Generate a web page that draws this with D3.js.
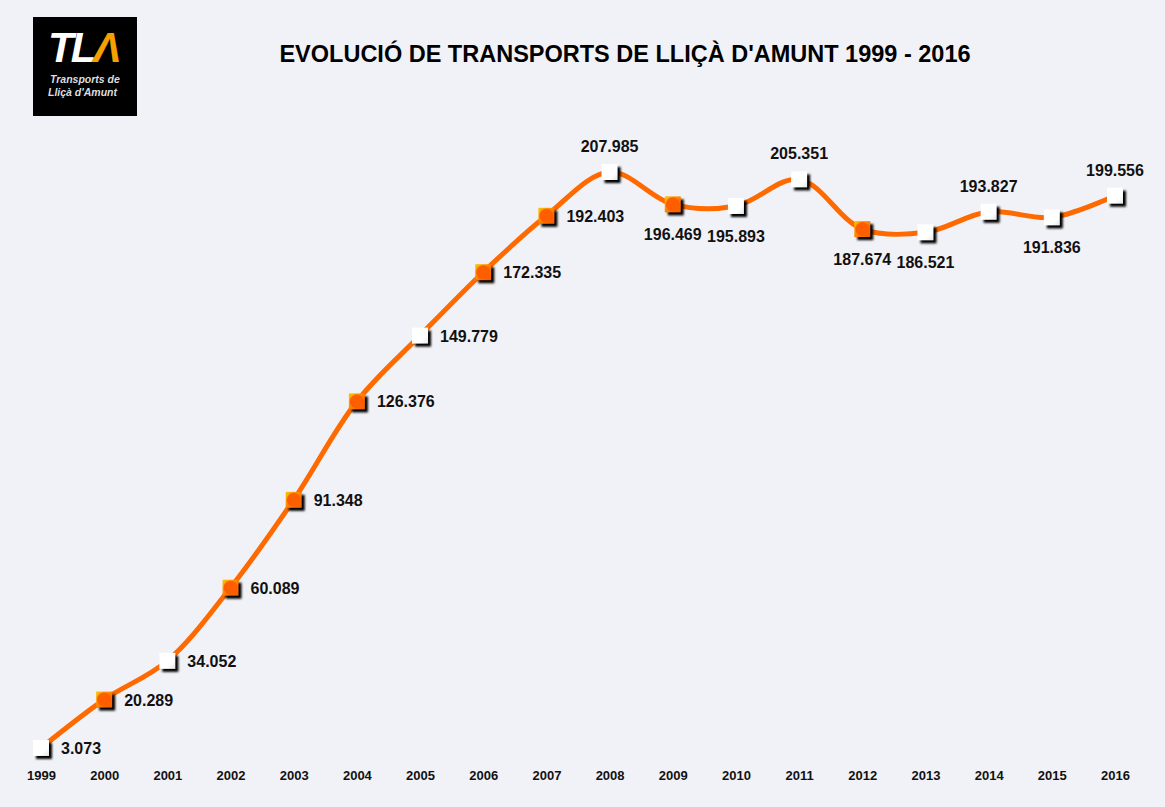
<!DOCTYPE html>
<html>
<head>
<meta charset="utf-8">
<script src="https://cdn.jsdelivr.net/npm/d3@7"></script>
<style>
  body { margin: 0; background: #f1f2f7; }
  svg { display: block; }
</style>
</head>
<body>
<div id="chart"></div>
<script>
// Data
const years = [1999, 2000, 2001, 2002, 2003, 2004, 2005, 2006, 2007, 2008, 2009, 2010, 2011, 2012, 2013, 2014, 2015, 2016]
const passengers = [3073, 20289, 34052, 60089, 91348, 126376, 149779, 172335, 192403, 207985, 196469, 195893, 205351, 187674, 186521, 193827, 191836, 199556]
const marker_kind = ['w', 'o', 'w', 'o', 'o', 'o', 'w', 'o', 'o', 'w', 'o', 'w', 'w', 'o', 'w', 'w', 'w', 'w']
const label_side = ['r', 'r', 'r', 'r', 'r', 'r', 'r', 'r', 'r', 't', 'b', 'b', 't', 'b', 'b', 't', 'b', 't']
const title = "EVOLUCIÓ DE TRANSPORTS DE LLIÇÀ D'AMUNT 1999 - 2016"

const width = 1165
const height = 807
const font = "'Liberation Sans', Arial, sans-serif"

const svg = d3.select('#chart').append('svg')
  .attr('width', width)
  .attr('height', height)

svg.append('rect')
  .attr('width', width).attr('height', height)
  .attr('fill', '#f1f2f7')

const defs = svg.append('defs')
const shadow = defs.append('filter').attr('id', 'blur')
  .attr('x', '-50%').attr('y', '-50%').attr('width', '200%').attr('height', '200%')
shadow.append('feGaussianBlur').attr('stdDeviation', 1.2)

const og = defs.append('linearGradient').attr('id', 'orange_sq')
  .attr('x1', 0).attr('y1', 0).attr('x2', 1).attr('y2', 1)
og.append('stop').attr('offset', '0%').attr('stop-color', '#f7c600')
og.append('stop').attr('offset', '55%').attr('stop-color', '#ff7a00')
og.append('stop').attr('offset', '100%').attr('stop-color', '#f05a00')

const wg = defs.append('linearGradient').attr('id', 'white_sq')
  .attr('x1', 0).attr('y1', 0).attr('x2', 1).attr('y2', 1)
wg.append('stop').attr('offset', '0%').attr('stop-color', '#ffffff')
wg.append('stop').attr('offset', '70%').attr('stop-color', '#ffffff')
wg.append('stop').attr('offset', '100%').attr('stop-color', '#e6e6e6')

// Logo
const logo = svg.append('g').attr('class', 'logo')
logo.append('rect')
  .attr('x', 33).attr('y', 17).attr('width', 104).attr('height', 99)
  .attr('fill', '#000')
const tla = logo.append('text')
  .attr('x', 48).attr('y', 62)
  .attr('font-family', font)
  .attr('font-weight', 'bold')
  .attr('font-style', 'italic')
  .attr('font-size', 42)
  .attr('letter-spacing', -3)
tla.append('tspan').attr('fill', '#fff').text('TL')
tla.append('tspan').attr('fill', '#f5a000').text('Λ')
logo.append('text')
  .attr('x', 50).attr('y', 83)
  .attr('font-family', font).attr('font-style', 'italic').attr('font-weight', 'bold')
  .attr('font-size', 10.5).attr('fill', '#ddd')
  .text('Transports de')
logo.append('text')
  .attr('x', 48).attr('y', 96)
  .attr('font-family', font).attr('font-style', 'italic').attr('font-weight', 'bold')
  .attr('font-size', 10.5).attr('fill', '#ddd')
  .text("Lliçà d'Amunt")

// Title
svg.append('text')
  .attr('x', 625).attr('y', 62)
  .attr('text-anchor', 'middle')
  .attr('font-family', font)
  .attr('font-weight', 'bold')
  .attr('font-size', 23.5)
  .attr('fill', '#000')
  .text(title)

// Scales
const x = d3.scalePoint()
  .domain(years)
  .range([41, 1115])
const y = d3.scaleLinear()
  .domain([0, 207985])
  .range([756.6, 172])

// Year labels
const xaxis = svg.append('g')
  .attr('transform', 'translate(0,780)')
  .call(d3.axisBottom(x).tickSize(0).tickPadding(0))
xaxis.select('.domain').remove()
xaxis.selectAll('text')
  .attr('font-family', font)
  .attr('font-weight', 'bold')
  .attr('font-size', 13)
  .attr('fill', '#111')
  .attr('dy', 0)

const points = years.map((yr, i) => ({ year: yr, value: passengers[i], kind: marker_kind[i], side: label_side[i] }))

// Line
const line = d3.line()
  .x(d => x(d.year))
  .y(d => y(d.value))
  .curve(d3.curveCatmullRom.alpha(0.5))
svg.append('path')
  .datum(points)
  .attr('d', line)
  .attr('fill', 'none')
  .attr('stroke', '#ff6a00')
  .attr('stroke-width', 5)
  .attr('stroke-linecap', 'round')

// Markers
const s = 16
const markers = svg.append('g').selectAll('g')
  .data(points)
  .join('g')
  .attr('transform', d => `translate(${x(d.year)},${y(d.value)})`)
markers.append('rect')
  .attr('x', -s / 2 + 3).attr('y', -s / 2 + 3)
  .attr('width', s).attr('height', s)
  .attr('fill', '#000')
  .attr('filter', 'url(#blur)')
markers.append('rect')
  .attr('x', -s / 2).attr('y', -s / 2)
  .attr('width', s).attr('height', s)
  .attr('fill', d => d.kind === 'o' ? 'url(#orange_sq)' : 'url(#white_sq)')
markers.filter(d => d.kind === 'o').append('circle')
  .attr('r', 7)
  .attr('fill', '#ff5e00')

// Value labels
const fmt = v => d3.format(',')(v).replace(/,/g, '.')
svg.append('g').selectAll('text')
  .data(points)
  .join('text')
  .attr('x', d => d.side === 'r' ? x(d.year) + 20 : x(d.year))
  .attr('y', d => d.side === 'r' ? y(d.value) + 6 : d.side === 't' ? y(d.value) - 20 : y(d.value) + 36)
  .attr('text-anchor', d => d.side === 'r' ? 'start' : 'middle')
  .attr('font-family', font)
  .attr('font-weight', 'bold')
  .attr('font-size', 16)
  .attr('fill', '#111')
  .text(d => fmt(d.value))
</script>
</body>
</html>
